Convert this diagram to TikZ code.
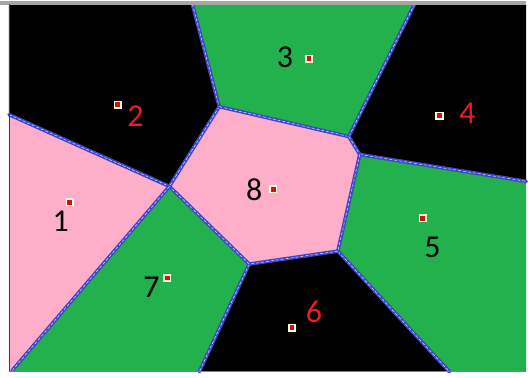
\documentclass[tikz,border=0pt]{standalone}
\usepackage{fontspec}
\setmainfont{Carlito}
\usepackage{tikz}

\definecolor{cellgreen}{HTML}{22B14C}
\definecolor{cellpink}{HTML}{FFAEC9}
\definecolor{edgeblue}{HTML}{3F48CC}
\definecolor{numred}{HTML}{ED1C24}
\definecolor{seedred}{HTML}{D0101A}

\begin{document}
\begin{tikzpicture}[x=1pt,y=-1pt,
    celledge/.style={edgeblue,line width=3.6pt,line cap=round,line join=round},
    edgeshine/.style={white!85!edgeblue,line width=0.5pt,dash pattern=on 3pt off 2pt},
    seed/.style={fill=seedred,draw=white!85!yellow,line width=1.6pt,minimum size=6.5pt,inner sep=0pt},
    num/.style={inner sep=0pt,font=\fontsize{32}{32}\selectfont}]
  \fill[white] (0,0) rectangle (528,379);

  % frame corners and cell vertices
  \coordinate (tl) at (9,4);
  \coordinate (tr) at (528,4);
  \coordinate (br) at (528,373);
  \coordinate (bl) at (9,373);
  \coordinate (va) at (193,4);
  \coordinate (vb) at (220,107);
  \coordinate (vc) at (170,187);
  \coordinate (vd) at (9,115);
  \coordinate (ve) at (416,4);
  \coordinate (vf) at (350,137);
  \coordinate (vg) at (361,155);
  \coordinate (vh) at (528,182);
  \coordinate (vi) at (339,252);
  \coordinate (vj) at (451,373);
  \coordinate (vk) at (250,265);
  \coordinate (vl) at (200,373);
  \coordinate (vm) at (12,372);

  \fill[cellpink] (vd) -- (vc) -- (vm) -- (bl) -- cycle;
  \fill[black] (tl) -- (va) -- (vb) -- (vc) -- (vd) -- cycle;
  \fill[cellgreen] (va) -- (ve) -- (vf) -- (vb) -- cycle;
  \fill[black] (ve) -- (tr) -- (vh) -- (vg) -- (vf) -- cycle;
  \fill[cellgreen] (vg) -- (vh) -- (br) -- (vj) -- (vi) -- cycle;
  \fill[black] (vi) -- (vj) -- (vl) -- (vk) -- cycle;
  \fill[cellgreen] (vc) -- (vk) -- (vl) -- (vm) -- cycle;
  \fill[cellpink] (vb) -- (vf) -- (vg) -- (vi) -- (vk) -- (vc) -- cycle;

  \foreach \p/\q in {vd/vc,va/vb,vb/vc,vb/vf,ve/vf,vf/vg,vg/vh,vg/vi,vi/vj,vi/vk,vk/vl,vk/vc,vc/vm}{
    \draw[celledge] (\p) -- (\q);
    \draw[edgeshine] (\p) -- (\q);
  }

  % frame lines
  \fill[gray!70] (0,1.5) rectangle (528,5);
  \draw[black!75,line width=0.8pt] (tl) -- (bl);
  \draw[gray,line width=1.5pt] (bl) -- (br);

  \node[seed] (s1) at (70,203) {};
  \node[seed] (s2) at (118,105) {};
  \node[seed] (s3) at (310,59) {};
  \node[seed] (s4) at (441,116) {};
  \node[seed] (s5) at (424,219) {};
  \node[seed] (s6) at (293,329) {};
  \node[seed] (s7) at (168,279) {};
  \node[seed] (s8) at (274,190) {};

  \node[num] (n1) at (61,222) {1};
  \node[num,numred] (n2) at (136,117) {2};
  \node[num] (n3) at (286,57) {3};
  \node[num,numred] (n4) at (469,114) {4};
  \node[num] (n5) at (434,248) {5};
  \node[num,numred] (n6) at (315,313) {6};
  \node[num] (n7) at (152,288) {7};
  \node[num] (n8) at (255,190) {8};
\end{tikzpicture}
\end{document}
